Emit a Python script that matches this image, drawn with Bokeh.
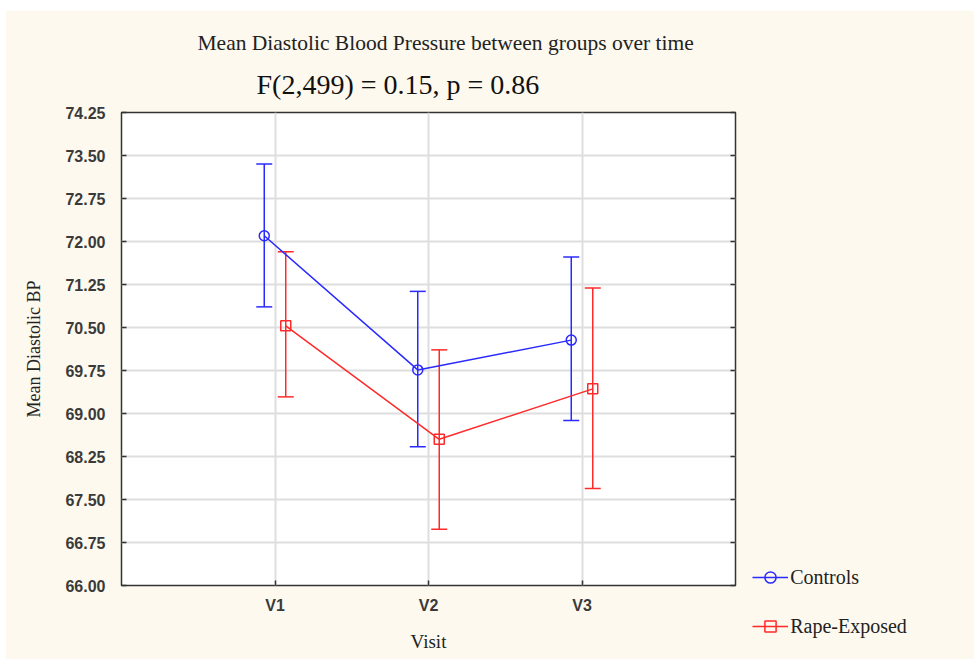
from bokeh.plotting import figure
from bokeh.models import (ColumnDataSource, Range1d, FixedTicker, NumeralTickFormatter,
                          Whisker, TeeHead, Legend, LegendItem, Title, LinearAxis)
from bokeh.transform import dodge
from bokeh.embed import file_html
from bokeh.resources import INLINE

# ---------------- data ----------------
visits = ["V1", "V2", "V3"]
controls_mean = [72.10, 69.76, 70.28]
controls_lower = [70.86, 68.42, 68.88]
controls_upper = [73.35, 71.13, 71.73]
exposed_mean = [70.53, 68.55, 69.43]
exposed_lower = [69.29, 66.98, 67.69]
exposed_upper = [71.82, 70.11, 71.19]
y_ticks = [66.00, 66.75, 67.50, 68.25, 69.00, 69.75, 70.50, 71.25, 72.00, 72.75, 73.50, 74.25]
series_names = ["Controls", "Rape-Exposed"]

BG = "#fdf9ee"
BLUE = "#2a2aff"
RED = "#ff2a2a"
SERIF = "Liberation Serif"
SANS = "Liberation Sans"

pos = list(range(1, len(visits) + 1))
src_c = ColumnDataSource(dict(x=pos, mean=controls_mean, lower=controls_lower, upper=controls_upper))
src_e = ColumnDataSource(dict(x=pos, mean=exposed_mean, lower=exposed_lower, upper=exposed_upper))

p = figure(frame_width=614, frame_height=473, output_backend="svg", toolbar_location=None,
           x_range=Range1d(0, len(visits) + 1), y_range=Range1d(y_ticks[0], y_ticks[-1]),
           min_border_left=116, min_border_right=239, min_border_top=102, min_border_bottom=74)
p.margin = (10, 0, 0, 5)
p.background_fill_color = "white"
p.border_fill_color = BG
p.outline_line_color = "#333333"
p.outline_line_width = 1.5

# axes
p.xaxis.ticker = FixedTicker(ticks=pos)
p.xaxis.major_label_overrides = {i: v for i, v in zip(pos, visits)}
p.yaxis.ticker = FixedTicker(ticks=y_ticks)
p.yaxis.formatter = NumeralTickFormatter(format="0.00")
for ax in (p.xaxis[0], p.yaxis[0]):
    ax.axis_line_color = None
    ax.major_tick_in = 5
    ax.major_tick_out = 0
    ax.major_tick_line_color = "#333333"
    ax.major_tick_line_width = 1.5
    ax.minor_tick_line_color = None
    ax.major_label_text_font = SANS
    ax.major_label_text_font_size = "16px"
    ax.major_label_text_font_style = "bold"
    ax.major_label_text_color = "#3a3a3a"
    ax.axis_label_text_font = SERIF
    ax.axis_label_text_font_style = "normal"
    ax.axis_label_text_color = "#222222"
p.xaxis.axis_label = "Visit"
p.xaxis.axis_label_text_font_size = "19px"
p.xaxis.major_label_standoff = 11
p.xaxis.axis_label_standoff = 14
p.yaxis.axis_label = "Mean Diastolic BP"
p.yaxis.axis_label_text_font_size = "18px"
p.yaxis.major_label_standoff = 16
p.yaxis.axis_label_standoff = 18

rax = LinearAxis(ticker=FixedTicker(ticks=y_ticks), axis_line_color=None,
                 major_tick_in=5, major_tick_out=0, major_tick_line_color="#333333",
                 major_tick_line_width=1.5, minor_tick_line_color=None,
                 major_label_overrides={t: "" for t in y_ticks}, major_label_standoff=0)
p.add_layout(rax, "right")

p.grid.grid_line_color = "#dedede"
p.grid.grid_line_width = 2

# series
d = 0.07
items = []
for src, color, marker, label, off in ((src_c, BLUE, "circle", series_names[0], -d),
                                       (src_e, RED, "square", series_names[1], d)):
    xs = dodge("x", off, range=p.x_range)
    w = Whisker(base=xs, upper="upper", lower="lower", source=src,
                line_color=color, line_width=1.5,
                upper_head=TeeHead(size=16, line_color=color, line_width=1.5),
                lower_head=TeeHead(size=16, line_color=color, line_width=1.5))
    p.add_layout(w)
    ln = p.line(x=xs, y="mean", source=src, line_color=color, line_width=1.5)
    mk = p.scatter(x=xs, y="mean", source=src, marker=marker, size=10,
                   fill_color=None, line_color=color, line_width=1.5)
    items.append(LegendItem(label=label, renderers=[ln, mk]))

legend = Legend(items=items, location=(-215, -55), orientation="vertical",
                background_fill_alpha=0, border_line_color=None,
                padding=0, margin=0, spacing=21, glyph_width=36, glyph_height=28,
                label_standoff=2, label_text_font=SERIF, label_text_font_size="20px",
                label_text_color="#222222")
p.add_layout(legend, "right")

# titles (first added sits closest to the plot)
p.add_layout(Title(text="F(2,499) = 0.15, p = 0.86", align="left", offset=135,
                   text_font=SERIF, text_font_size="28px", text_font_style="normal",
                   text_color="#111111", standoff=25), "above")
p.add_layout(Title(text="Mean Diastolic Blood Pressure  between groups over time",
                   align="left", offset=76, text_font=SERIF, text_font_size="21.5px",
                   text_font_style="normal", text_color="#222222", standoff=0), "above")

open("out.html", "w").write(file_html(p, INLINE))
